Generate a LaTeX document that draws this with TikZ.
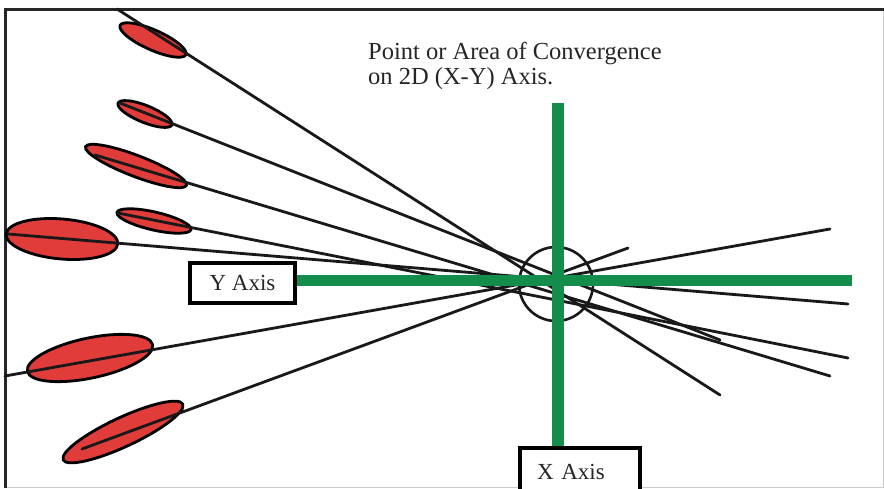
\documentclass[tikz,border=0pt]{standalone}
\usepackage{fontspec}
\setmainfont{Liberation Serif}
\usetikzlibrary{shapes.geometric}
\definecolor{leafred}{RGB}{224,60,58}
\definecolor{axisgreen}{RGB}{20,140,76}
\begin{document}
\begin{tikzpicture}[x=1pt,y=1pt,
  leaf/.style={ellipse, draw=black, line width=2.8pt, fill=leafred, inner sep=0pt},
  ray/.style={line width=2.8pt, black!90, line cap=round},
  axisline/.style={line width=11.5pt, axisgreen},
  labelbox/.style={draw=black, line width=3.2pt, fill=white, inner sep=0pt,
    text=black!85, font=\fontsize{23}{26}\selectfont},
  zone/.style={draw=black!90, line width=2.6pt, circle, inner sep=0pt, minimum size=74pt}
  ]
\useasboundingbox (0,0) rectangle (884,-488);
\fill[white] (0,0) rectangle (884,-488);

% frame
\draw[black!20, line width=1pt] (883,-9) -- (883,-487) -- (5,-487);
\draw[black!85, line width=3pt] (5,-488) -- (5,-9) -- (884,-9);

% red leaf shapes
\node[leaf, minimum width=72pt, minimum height=20pt, rotate=-24] (e1) at (153,-40) {};
\node[leaf, minimum width=58pt, minimum height=17pt, rotate=-22] (e2) at (145,-114) {};
\node[leaf, minimum width=108pt, minimum height=21pt, rotate=-21] (e3) at (136,-166) {};
\node[leaf, minimum width=76pt, minimum height=18pt, rotate=-13] (e4) at (154,-221) {};
\node[leaf, minimum width=112pt, minimum height=40pt, rotate=-5] (e5) at (62,-239) {};
\node[leaf, minimum width=128pt, minimum height=40pt, rotate=12] (e6) at (90,-358) {};
\node[leaf, minimum width=132pt, minimum height=29pt, rotate=25] (e7) at (123,-432) {};

% ray end points
\coordinate (s1) at (117,-9);   \coordinate (t1) at (720,-395);
\coordinate (s2) at (120,-103); \coordinate (t2) at (720,-340);
\coordinate (s3) at (95,-155);  \coordinate (t3) at (830,-376);
\coordinate (s4) at (118,-213); \coordinate (t4) at (848,-358);
\coordinate (s5) at (8,-234);   \coordinate (t5) at (848,-304);
\coordinate (s6) at (5,-376);   \coordinate (t6) at (830,-229);
\coordinate (s7) at (82,-449);  \coordinate (t7) at (628,-248);

% rays
\foreach \i in {1,...,7} { \draw[ray] (s\i) -- (t\i); }

% convergence zone
\node[zone] (zone) at (556,-284) {};

% label boxes
\node[labelbox, minimum width=105pt, minimum height=40pt] (ybox) at (242.5,-283) {Y Axis};
\node[labelbox, text width=86pt, align=left, inner xsep=17pt, minimum height=47pt]
  (xbox) at (580,-471.5) {X Axis};

% green axes
\coordinate (hend) at (852,-280.5);
\coordinate (vtop) at (558,-103);
\draw[axisline] (hend) -- (hend -| ybox.east);
\draw[axisline] (vtop) -- (vtop |- xbox.north);

% caption
\node[anchor=north west, align=left, inner sep=0pt, text=black!85,
  font=\fontsize{24.5}{25.5}\selectfont] (title) at (368,-42)
  {Point or Area of Convergence\\on 2D (X-Y) Axis.};
\end{tikzpicture}
\end{document}
